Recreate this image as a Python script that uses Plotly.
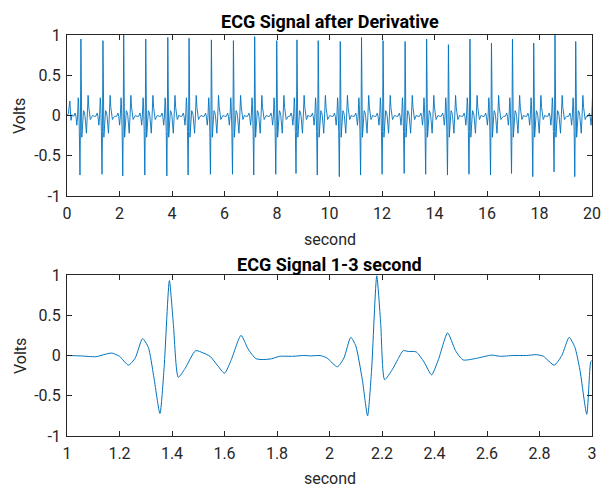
import plotly.graph_objects as go

# ---------------- data ----------------
# Top panel: R-peak times (s), R amplitudes and the preceding trough amplitudes
r_times = [0.53, 1.37, 2.16, 3.00, 3.84, 4.65, 5.50, 6.34, 7.15, 7.99, 8.76, 9.57,
           10.41, 11.22, 12.04, 12.88, 13.70, 14.53, 15.35, 16.17, 16.97, 17.78,
           18.59, 19.38, 20.12]
r_peaks = [0.95, 0.93, 1.00, 0.95, 0.97, 0.96, 0.94, 0.93, 0.98, 0.93, 0.94, 0.93,
           0.92, 0.97, 0.93, 0.92, 0.95, 0.88, 0.95, 0.90, 0.95, 0.90,
           1.00, 0.92, 0.93]
q_troughs = [-0.74, -0.73, -0.75, -0.74, -0.75, -0.74, -0.73, -0.73, -0.74, -0.73, -0.72, -0.74,
             -0.76, -0.74, -0.73, -0.72, -0.73, -0.74, -0.73, -0.74, -0.72, -0.76,
             -0.70, -0.76, -0.73]
# one beat (time offset from the R peak, volts)
beat_offsets = [-0.40, -0.33, -0.27, -0.22, -0.19, -0.156, -0.13, -0.102, -0.085, -0.06,
                -0.036, -0.02, 0.0, 0.015, 0.034, 0.06, 0.10, 0.13, 0.155, 0.185,
                0.21, 0.24, 0.273, 0.30, 0.33, 0.36, 0.39, 0.42]
beat_values = [0.0, -0.01, -0.01, 0.03, -0.01, -0.12, -0.02, 0.22, 0.14, -0.20,
               None, -0.20, None, 0.45, -0.27, -0.16, 0.06, 0.04, 0.0, -0.12,
               -0.22, -0.02, 0.25, 0.10, -0.04, -0.05, -0.03, -0.01]
# start of the record (before the first beat)
start_t = [0.0, 0.05, 0.11, 0.15, 0.20]
start_v = [0.0, 0.02, 0.18, -0.06, 0.01]

# Bottom panel: signal between 1 and 3 s
seg_t = [1.00, 1.05, 1.11, 1.14, 1.17, 1.20, 1.234, 1.26, 1.288, 1.31, 1.33, 1.354, 1.37,
         1.39, 1.405, 1.424, 1.45, 1.49, 1.52, 1.545, 1.575, 1.60, 1.625, 1.663, 1.69,
         1.72, 1.75, 1.78, 1.81, 1.86, 1.90, 1.93, 1.964, 1.99, 2.03, 2.055, 2.081,
         2.10, 2.125, 2.145, 2.16, 2.18, 2.195, 2.21, 2.24, 2.26, 2.281, 2.30, 2.33,
         2.36, 2.389, 2.415, 2.45, 2.48, 2.509, 2.56, 2.617, 2.65, 2.70, 2.75, 2.789,
         2.815, 2.856, 2.885, 2.913, 2.935, 2.954, 2.98, 2.995, 3.0]
seg_v = [0.0, -0.005, -0.015, 0.01, 0.03, -0.01, -0.12, -0.03, 0.21, 0.10, -0.25, -0.72, -0.15,
         0.93, 0.40, -0.27, -0.16, 0.06, 0.03, -0.01, -0.13, -0.22, -0.06, 0.25, 0.08,
         -0.04, -0.05, -0.04, -0.01, -0.01, 0.0, -0.005, 0.0, -0.03, -0.14, -0.03, 0.225,
         0.12, -0.30, -0.75, -0.20, 0.99, 0.40, -0.30, -0.17, -0.05, 0.06, 0.05, 0.045,
         -0.08, -0.24, -0.05, 0.28, 0.06, -0.055, -0.035, 0.005, -0.01, 0.0, 0.0, 0.01,
         -0.01, -0.12, 0.0, 0.226, 0.10, -0.18, -0.73, -0.08, -0.06]

top_xticks = [0, 2, 4, 6, 8, 10, 12, 14, 16, 18, 20]
top_xlabels = ["0", "2", "4", "6", "8", "10", "12", "14", "16", "18", "20"]
bot_xticks = [1, 1.2, 1.4, 1.6, 1.8, 2, 2.2, 2.4, 2.6, 2.8, 3]
bot_xlabels = ["1", "1.2", "1.4", "1.6", "1.8", "2", "2.2", "2.4", "2.6", "2.8", "3"]
yticks = [-1, -0.5, 0, 0.5, 1]
ylabels = ["-1", "-0.5", "0", "0.5", "1"]

# ---------------- assemble top series from the beat data ----------------
top_t = list(start_t)
top_v = list(start_v)
n = len(r_times)
for i, r in enumerate(r_times):
    lo = -0.30 if i == 0 else -(r - r_times[i - 1]) / 2
    hi = (r_times[i + 1] - r) / 2 if i < n - 1 else 0.42
    for off, val in zip(beat_offsets, beat_values):
        if lo <= off < hi:
            if off == 0.0:
                val = r_peaks[i]
            elif off == -0.036:
                val = q_troughs[i]
            top_t.append(r + off)
            top_v.append(val)

# ---------------- figure ----------------
W, H = 603, 488
L, R = 67, 592
blue = "#0072BD"
axc = "#262626"
font = "Roboto"

fig = go.Figure()
fig.add_trace(go.Scatter(x=top_t, y=top_v, mode="lines", xaxis="x", yaxis="y",
                         line=dict(color=blue, width=0.9), showlegend=False))
fig.add_trace(go.Scatter(x=seg_t, y=seg_v, mode="lines", xaxis="x2", yaxis="y2",
                         line=dict(color=blue, width=1, shape="spline", smoothing=0.6),
                         showlegend=False))

def px(v):
    return v / W

def py(v):
    return 1 - v / H

common = dict(showline=True, linecolor=axc, linewidth=1, mirror="ticks",
              ticks="inside", ticklen=5, tickcolor=axc, showgrid=False, zeroline=False,
              automargin=False,
              tickfont=dict(family=font, size=16, color=axc))

fig.update_layout(
    width=W, height=H, margin=dict(l=0, r=0, t=0, b=0, autoexpand=False),
    paper_bgcolor="white", plot_bgcolor="white",
    xaxis=dict(domain=[px(L), px(R)], range=[0, 20], tickvals=top_xticks,
               ticktext=top_xlabels, anchor="y", ticklabelstandoff=3, **common),
    yaxis=dict(domain=[py(196), py(35)], range=[-1, 1], tickvals=yticks,
               ticktext=ylabels, anchor="x", ticklabelstandoff=2, **common),
    xaxis2=dict(domain=[px(L), px(R)], range=[1, 3], tickvals=bot_xticks,
                ticktext=bot_xlabels, anchor="y2", ticklabelstandoff=3, **common),
    yaxis2=dict(domain=[py(436), py(275)], range=[-1, 1], tickvals=yticks,
                ticktext=ylabels, anchor="x2", ticklabelstandoff=2, **common),
)

cx = px((L + R) / 2)
base = dict(xref="paper", yref="paper", showarrow=False, xanchor="center", yanchor="middle")
ann = [
    dict(text="<b>ECG Signal after Derivative</b>", x=cx, y=py(21),
         font=dict(family=font, size=18, color="black"), **base),
    dict(text="<b>ECG Signal 1-3 second</b>", x=cx, y=py(264),
         font=dict(family=font, size=18, color="black"), **base),
    dict(text="second", x=cx, y=py(239), font=dict(family=font, size=16, color=axc), **base),
    dict(text="second", x=cx, y=py(478), font=dict(family=font, size=16, color=axc), **base),
    dict(text="Volts", x=px(20), y=py(116), textangle=-90,
         font=dict(family=font, size=16, color=axc), **base),
    dict(text="Volts", x=px(20), y=py(356), textangle=-90,
         font=dict(family=font, size=16, color=axc), **base),
]
fig.update_layout(annotations=ann)

fig.write_html("out.html", config={"displayModeBar": False},
               post_script="document.body.style.margin='0';document.body.style.padding='0';")
